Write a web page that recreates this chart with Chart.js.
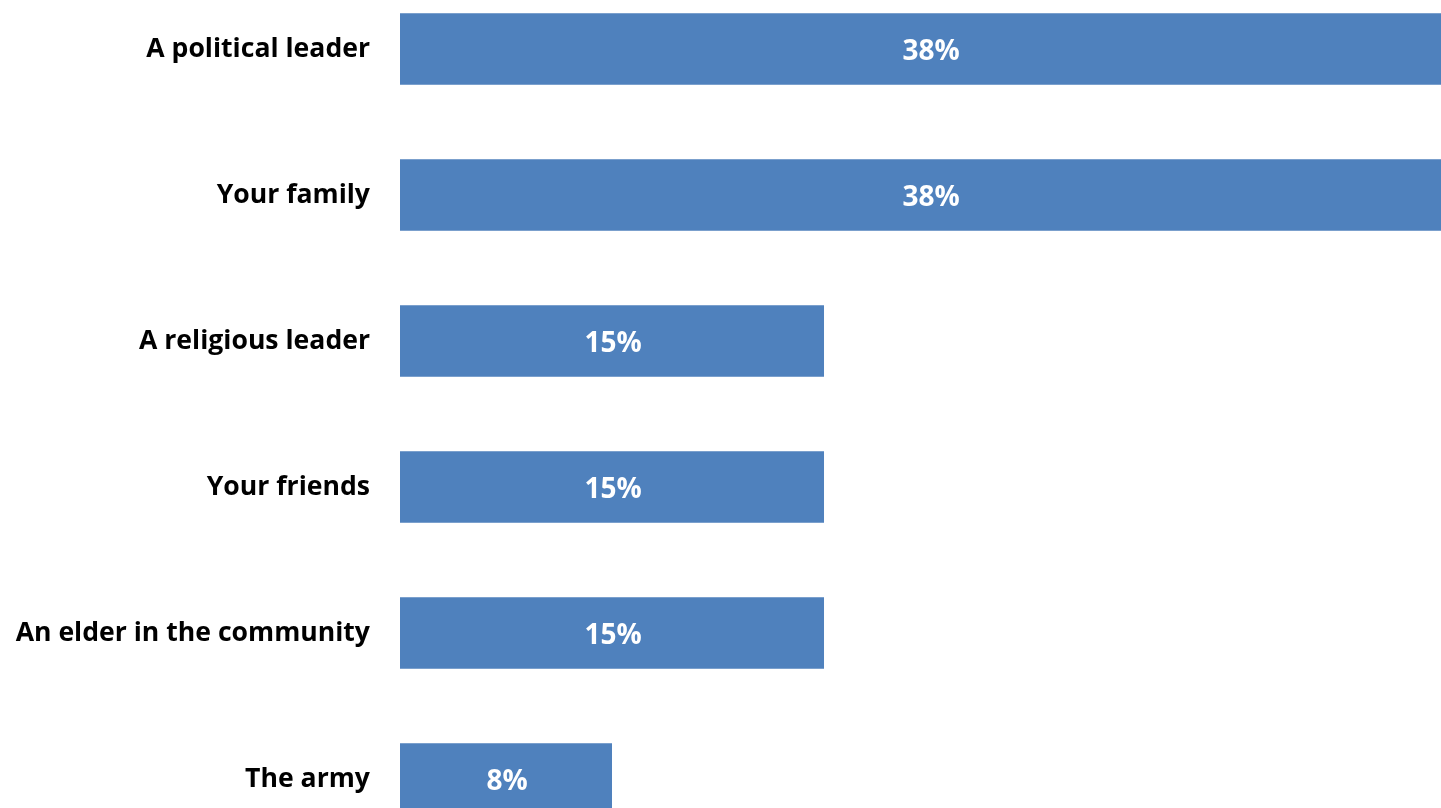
<!DOCTYPE html>
<html>
<head>
<meta charset="utf-8">
<script src="https://cdn.jsdelivr.net/npm/chart.js@4.4.1/dist/chart.umd.min.js"></script>
<style>
    html, body { margin: 0; padding: 0; background: #fff; overflow: hidden; width: 1441px; height: 808px; }
    #wrap { position: absolute; left: 0; top: -24px; width: 1500px; height: 876px; }
</style>
</head>
<body>
<div id="wrap"><canvas id="sourceChart"></canvas></div>
<script>
// categories and shares (5/13, 2/13, 1/13 of respondents)
const categories = ['A political leader', 'Your family', 'A religious leader', 'Your friends', 'An elder in the community', 'The army'];
const shares = [38.46, 38.46, 15.38, 15.38, 15.38, 7.69];

const barColor = '#4F81BD';

// draws the white percentage in the middle of each bar
const barLabels = {
    id: 'barLabels',
    afterDatasetsDraw(chart) {
        const ctx = chart.ctx;
        ctx.save();
        ctx.font = 'bold 28px "Open Sans"';
        ctx.fillStyle = '#ffffff';
        ctx.textAlign = 'center';
        ctx.textBaseline = 'middle';
        chart.getDatasetMeta(0).data.forEach((bar, i) => {
            const cx = (bar.base + bar.x) / 2;
            ctx.fillText(Math.round(shares[i]) + '%', cx + 1, bar.y + 3);
        });
        ctx.restore();
    }
};

const ctx = document.getElementById('sourceChart').getContext('2d');
const chart = new Chart(ctx, {
    type: 'bar',
    data: {
        labels: categories,
        datasets: [{
            data: shares,
            backgroundColor: barColor,
            borderWidth: 0,
            barPercentage: 0.49,
            categoryPercentage: 1.0
        }]
    },
    options: {
        indexAxis: 'y',
        responsive: true,
        maintainAspectRatio: false,
        animation: false,
        layout: { padding: 0 },
        plugins: {
            legend: { display: false },
            tooltip: { enabled: false }
        },
        scales: {
            x: {
                display: false,
                min: 0,
                max: 39.9
            },
            y: {
                afterFit: (scale) => {
                    scale.width = 400;
                    scale.paddingTop = 0;
                    scale.paddingBottom = 0;
                },
                grid: { display: false, drawTicks: false },
                border: { display: false },
                ticks: {
                    color: '#000000',
                    padding: 30,
                    font: { family: 'Open Sans', size: 26.6, weight: 'bold' }
                }
            }
        }
    },
    plugins: [barLabels]
});
</script>
</body>
</html>
